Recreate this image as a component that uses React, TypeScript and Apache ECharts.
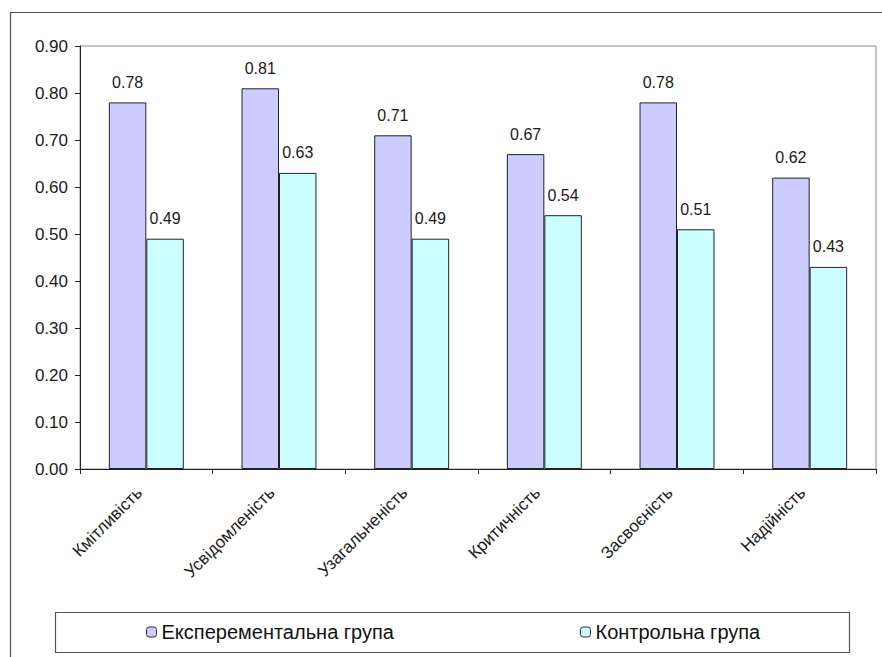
import React, { useEffect, useRef } from "react";
import * as echarts from "echarts";

const categories = [
  "Кмітливість",
  "Усвідомленість",
  "Узагальненість",
  "Критичність",
  "Засвоєність",
  "Надійність",
];
const experimental = [0.78, 0.81, 0.71, 0.67, 0.78, 0.62];
const control = [0.49, 0.63, 0.49, 0.54, 0.51, 0.43];
const seriesNames = ["Експерементальна група", "Контрольна група"];

const FONT = "Arial, 'Liberation Sans', sans-serif";

export default function App() {
  const ref = useRef<HTMLDivElement>(null);

  useEffect(() => {
    if (!ref.current) return;
    const chart = echarts.init(ref.current, null, { renderer: "svg" });
    const labelStyle = {
      show: true,
      position: "top" as const,
      distance: 12,
      fontFamily: FONT,
      fontSize: 16,
      color: "#1a1a1a",
      formatter: (p: any) => Number(p.value).toFixed(2),
    };
    const legendCommon = {
      top: 617,
      itemWidth: 10,
      itemHeight: 10,
      textStyle: { fontFamily: FONT, fontSize: 20, color: "#111" },
      itemStyle: { borderColor: "#333", borderWidth: 1 },
    };
    chart.setOption({
      animation: false,
      backgroundColor: "#ffffff",
      graphic: [
        {
          type: "rect",
          shape: { x: 10.5, y: 12.5, width: 900, height: 700 },
          style: { fill: "none", stroke: "#555", lineWidth: 1.2 },
          silent: true,
        },
        {
          type: "rect",
          shape: { x: 55.5, y: 612.5, width: 794, height: 40 },
          style: { fill: "#fff", stroke: "#555", lineWidth: 1.2 },
          silent: true,
          z: -1,
        },
      ],
      grid: {
        left: 80,
        top: 46,
        width: 796,
        height: 423,
        show: true,
        borderColor: "#8c8c8c",
        borderWidth: 1,
        backgroundColor: "transparent",
        containLabel: false,
      },
      legend: [
        { ...legendCommon, left: 141, data: [seriesNames[0]] },
        { ...legendCommon, left: 575, data: [seriesNames[1]] },
      ],
      xAxis: {
        type: "category",
        data: categories,
        axisLine: { lineStyle: { color: "#222", width: 1 } },
        axisTick: { show: true, length: 5, lineStyle: { color: "#222" } },
        axisLabel: {
          rotate: 45,
          interval: 0,
          margin: 14,
          padding: [0, 10, 0, 0],
          fontFamily: FONT,
          fontSize: 17,
          color: "#1a1a1a",
        },
        splitLine: { show: false },
      },
      yAxis: {
        type: "value",
        min: 0,
        max: 0.9,
        interval: 0.1,
        axisLine: { show: true, lineStyle: { color: "#222", width: 1 } },
        axisTick: { show: true, length: 5, lineStyle: { color: "#222" } },
        axisLabel: {
          margin: 12,
          fontFamily: FONT,
          fontSize: 17,
          color: "#1a1a1a",
          formatter: (v: number) => v.toFixed(2),
        },
        splitLine: { show: false },
      },
      series: [
        {
          name: seriesNames[0],
          type: "bar",
          data: experimental,
          barGap: "0%",
          barCategoryGap: "43.5%",
          itemStyle: { color: "#ccccff", borderColor: "#222", borderWidth: 1 },
          label: labelStyle,
        },
        {
          name: seriesNames[1],
          type: "bar",
          data: control,
          itemStyle: { color: "#ccffff", borderColor: "#222", borderWidth: 1 },
          label: labelStyle,
        },
      ],
    });
    return () => chart.dispose();
  }, []);

  return (
    <div
      ref={ref}
      style={{ position: "absolute", left: 0, top: 0, width: 882, height: 657 }}
    />
  );
}
